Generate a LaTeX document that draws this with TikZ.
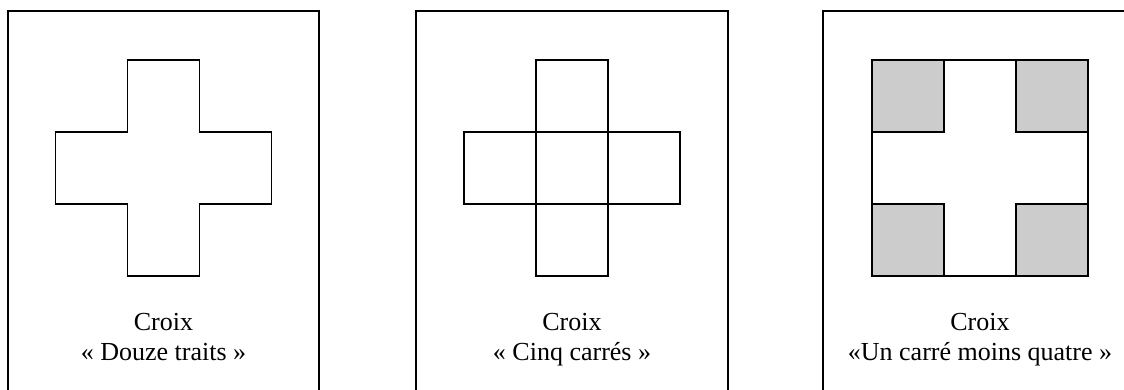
\documentclass[tikz,border=0pt]{standalone}
\usepackage{fontspec}
\setmainfont{Liberation Serif}
\definecolor{cellgray}{RGB}{204,204,204}

\begin{document}
\begin{tikzpicture}[x=1pt, y=-1pt, line width=1.6pt,
                    every node/.style={inner sep=0pt, anchor=base,
                                       font=\fontsize{26}{30}\selectfont},
                    cell/.style={draw, fill=cellgray}]
\useasboundingbox (0,0) rectangle (1124,390);
\clip (0,0) rectangle (1124,390);
% the three frames
\draw (8,11) rectangle (319,400);
\draw (416,11) rectangle (728,400);
\draw (823,11) rectangle (1137,400);
% douze traits
\draw (127.5,60) -- (199.5,60) -- (199.5,132) -- (271.5,132) -- (271.5,204)
  -- (199.5,204) -- (199.5,276) -- (127.5,276) -- (127.5,204) -- (55.5,204)
  -- (55.5,132) -- (127.5,132) -- cycle;
% cinq carres
\foreach \x/\y in {536/60, 464/132, 536/132, 608/132, 536/204}
  \draw (\x,\y) rectangle ++(72,72);
% un carre moins quatre
\draw (872,60) rectangle (1088,276);
\foreach \x/\y in {872/60, 1016/60, 872/204, 1016/204}
  \draw[cell] (\x,\y) rectangle ++(72,72);
% labels
\node (title1) at (163.5,330) {Croix};
\node (sub1)   at (163.5,360) {«~Douze traits~»};
\node (title2) at (572,330) {Croix};
\node (sub2)   at (572,360) {«~Cinq carrés~»};
\node (title3) at (980,330) {Croix};
\node (sub3)   at (980,360) {«Un carré moins quatre~»};
\end{tikzpicture}
\end{document}
